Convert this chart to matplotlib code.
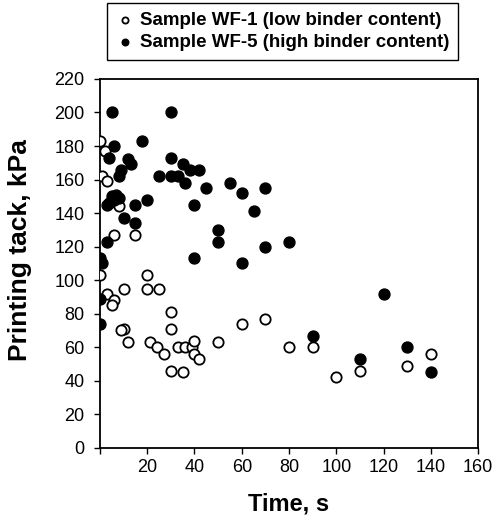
import matplotlib

matplotlib.use("Agg")
import matplotlib.pyplot as plt

plt.rcParams["font.family"] = ["Liberation Sans", "DejaVu Sans"]

# Sample WF-1 (low binder content), open circles
wf1_time = [0, 2, 1, 3, 8, 6, 15, 0, 10, 20, 20, 25, 3, 6, 5, 30, 30, 10, 9,
            12, 21, 24, 27, 33, 36, 39, 40, 40, 42, 50, 30, 35, 60, 70, 80, 90,
            100, 110, 130, 140]
wf1_tack = [183, 177, 162, 159, 144, 127, 127, 103, 95, 103, 95, 95, 92, 88, 85,
            81, 71, 71, 70, 63, 63, 60, 56, 60, 60, 60, 64, 56, 53, 63, 46, 45,
            74, 77, 60, 60, 42, 46, 49, 56]

# Sample WF-5 (high binder content), filled circles
wf5_time = [0, 1, 0, 0, 3, 3, 4, 5, 6, 4, 5, 6, 7, 8, 8, 9, 10, 12, 13, 15,
            15, 18, 20, 25, 30, 30, 30, 33, 35, 36, 38, 40, 40, 42, 45, 50, 50,
            55, 60, 60, 65, 70, 70, 80, 90, 110, 120, 130, 140]
wf5_tack = [113, 110, 89, 74, 123, 145, 173, 200, 180, 146, 150, 148, 151, 149,
            162, 166, 137, 172, 169, 145, 134, 183, 148, 162, 200, 173, 162, 162,
            169, 158, 166, 145, 113, 166, 155, 130, 123, 158, 152, 110, 141, 155,
            120, 123, 67, 53, 92, 60, 45]

x_ticks = [0, 20, 40, 60, 80, 100, 120, 140, 160]
x_tick_labels = ["", "20", "40", "60", "80", "100", "120", "140", "160"]
y_ticks = list(range(0, 221, 20))

fig = plt.figure(figsize=(4.92, 5.16), dpi=100)
ax = fig.add_axes([0.203, 0.132, 0.769, 0.715])

ax.scatter(wf1_time, wf1_tack, s=55, facecolors="white", edgecolors="black",
           linewidths=1.3, label="Sample WF-1 (low binder content)", zorder=3)
ax.scatter(wf5_time, wf5_tack, s=62, facecolors="black", edgecolors="black",
           linewidths=1.0, label="Sample WF-5 (high binder content)", zorder=3)

ax.set_xlim(0, 160)
ax.set_ylim(0, 220)
ax.set_xticks(x_ticks)
ax.set_xticklabels(x_tick_labels)
ax.set_yticks(y_ticks)
ax.tick_params(direction="out", length=4, width=1, labelsize=13, colors="black")
ax.tick_params(axis="y", pad=7)
ax.tick_params(axis="x", pad=4)
for sp in ax.spines.values():
    sp.set_linewidth(1.3)

ax.set_xlabel("Time, s", fontsize=17, fontweight="bold")
ax.set_ylabel("Printing tack, kPa", fontsize=19, fontweight="bold")
ax.xaxis.set_label_coords(0.5, -0.122)
ax.yaxis.set_label_coords(-0.18, 0.535)

handles, labels = ax.get_legend_handles_labels()
leg = fig.legend(handles, labels, loc="upper left",
                 bbox_to_anchor=(107 / 492, 1 - 3 / 516), fontsize=13.5,
                 frameon=True, fancybox=False, edgecolor="black",
                 framealpha=1, markerscale=0.6, handletextpad=0.3,
                 handlelength=1.0, borderpad=0.45, labelspacing=0.3,
                 borderaxespad=0)
leg.get_frame().set_linewidth(1.0)
for t in leg.get_texts():
    t.set_fontweight("bold")

fig.savefig("out.png", dpi=100)
